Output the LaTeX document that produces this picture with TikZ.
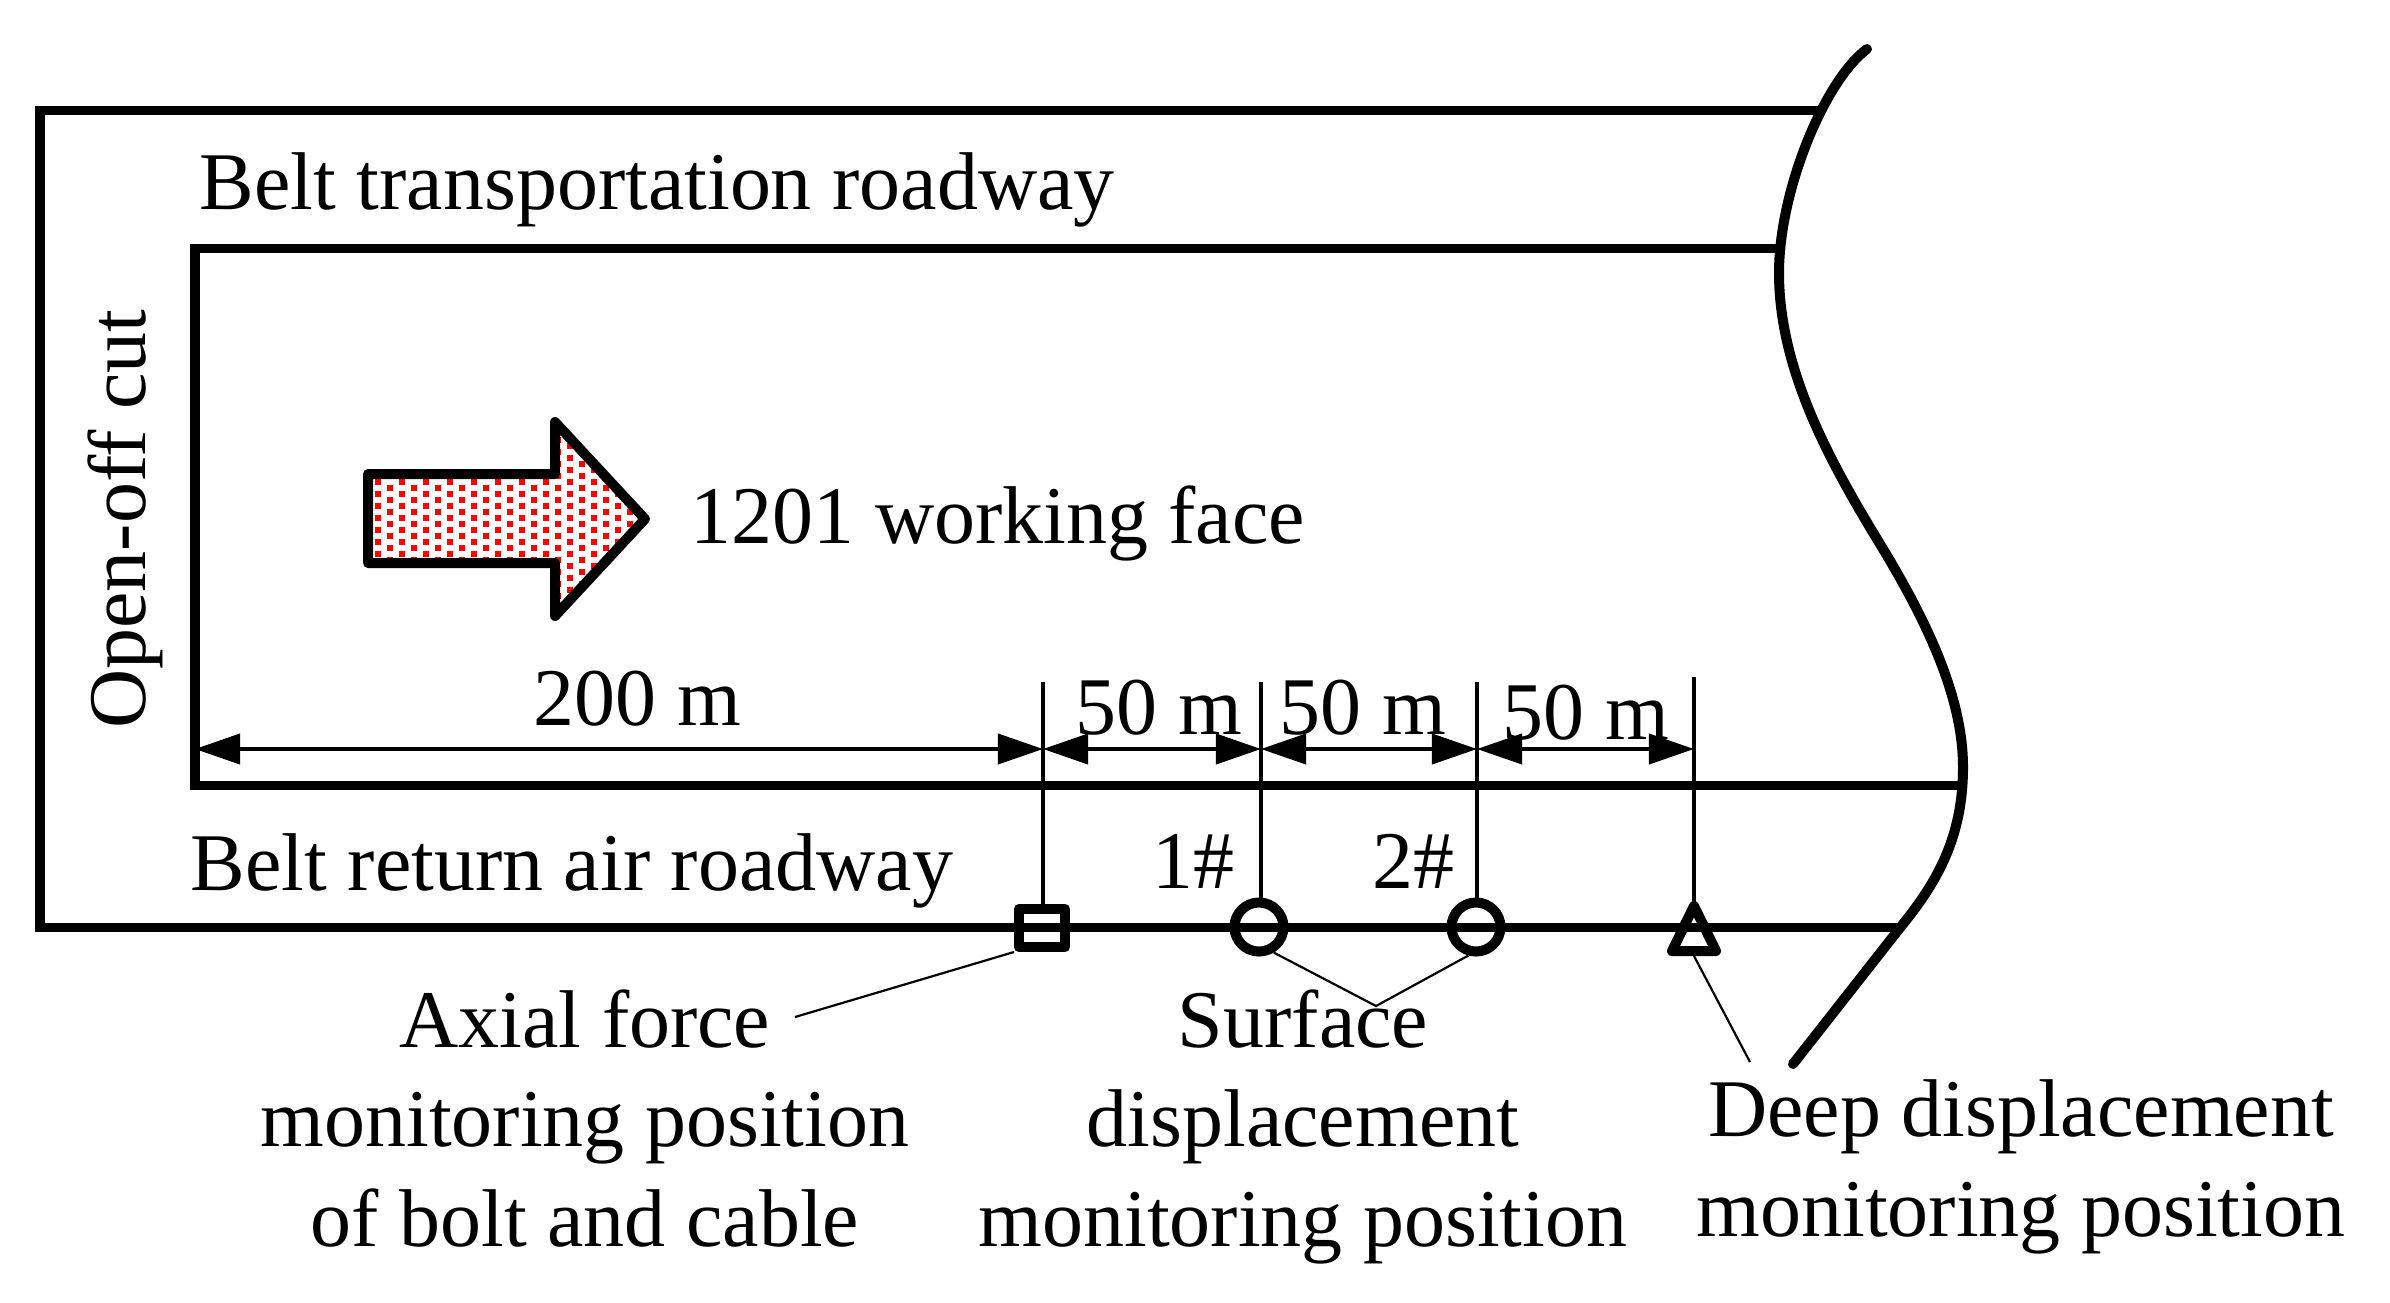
\documentclass[tikz,border=0pt]{standalone}
\usepackage{fontspec}
\setmainfont{Liberation Serif}
\usetikzlibrary{arrows.meta,positioning,shapes.geometric,calc}

\begin{document}
\begin{tikzpicture}[
  x=0.01cm, y=-0.01cm,
  every node/.style={font=\fontsize{23.3}{28.2}\selectfont, inner sep=0pt},
  wall/.style={line width=0.09cm, line join=miter},
  tick/.style={line width=0.035cm},
  leader/.style={line width=0.022cm},
  arr/.style={{Triangle[length=4.5mm,width=3mm]}-{Triangle[length=4.5mm,width=3mm]}, line width=0.04cm},
  marker/.style={draw, line width=0.1cm, fill=none, line join=round},
  lbl/.style={anchor=base west},
  multi/.style={align=center, anchor=base}
]
  \useasboundingbox (0,0) rectangle (2390,1302);

  % roadways
  \coordinate (TR) at (1821,110);
  \coordinate (IR) at (1778,248);
  \coordinate (LR) at (1961,785);
  \coordinate (BR) at (1899,927);
  \draw[wall] (TR) -- (40,110) -- (40,927) -- (BR);
  \draw[wall] (IR) -- (195,248) -- (195,785) -- (LR);
  \draw[line width=0.1cm, line cap=round] (1867,49)
    .. controls (1825,80) and (1779,190) .. (1779,273)
    .. controls (1779,370) and (1830,462) .. (1880,544)
    .. controls (1930,626) and (1963,700) .. (1963,767)
    .. controls (1963,840) and (1935,885) .. (1899,929)
    -- (1793,1064);

  % advance arrow
  \coordinate (A1) at (368,474);
  \coordinate (A2) at (555,474);
  \coordinate (A3) at (555,422);
  \coordinate (A4) at (645,519);
  \coordinate (A5) at (555,616);
  \coordinate (A6) at (555,563);
  \coordinate (A7) at (368,563);
  \begin{scope}
    \clip (A1) -- (A2) -- (A3) -- (A4) -- (A5) -- (A6) -- (A7) -- cycle;
    \foreach \i in {0,...,23} {
      \foreach \j in {-5,...,11} {
        \fill[red] ({375+12*\i},{479+12*\j+6*mod(\i,2)}) rectangle +(6,6);
      }
    }
  \end{scope}
  \draw[line width=0.1cm, line join=round] (A1) -- (A2) -- (A3) -- (A4) -- (A5) -- (A6) -- (A7) -- cycle;

  % monitoring positions
  \node (AF) [marker, shape=rectangle, minimum width=0.46cm, minimum height=0.38cm] at (1042,928) {};
  \node (S1) [marker, shape=circle, minimum size=0.49cm] at (1259,927) {};
  \node (S2) [marker, shape=circle, minimum size=0.49cm] at (1476,927) {};
  \node (DP) [marker, shape=isosceles triangle, isosceles triangle apex angle=52,
    isosceles triangle stretches, shape border rotate=90,
    minimum width=0.44cm, minimum height=0.45cm, anchor=lower side] at (1694,956) {};

  % ticks
  \coordinate (T0) at (1043,682);
  \coordinate (T1) at (1261,682);
  \coordinate (T2) at (1477,682);
  \coordinate (T3) at (1694,677);
  \draw[tick] (T0) -- (AF.north -| T0);
  \draw[tick] (T1) -- (S1.north -| T1);
  \draw[tick] (T2) -- (S2.north -| T2);
  \draw[tick, shorten >=-0.08cm] (T3) -- (DP.apex);

  % dimensions
  \coordinate (D) at (195,749);
  \coordinate (D0) at (T0 |- D);
  \coordinate (D1) at (T1 |- D);
  \coordinate (D2) at (T2 |- D);
  \coordinate (D3) at (T3 |- D);
  \draw[arr] (D) -- (D0);
  \draw[arr] (D0) -- (D1);
  \draw[arr] (D1) -- (D2);
  \draw[arr] (D2) -- (D3);

  % labels
  \node (BT) [lbl] at (199,209) {Belt transportation roadway};
  \node (BA) [lbl] at (190,890) {Belt return air roadway};
  \node (OC) [rotate=90, anchor=base] at (145,519) {Open-off cut};
  \node (WF) [lbl] at (690,543) {1201 working face};
  \node (L200) [lbl] at (533,725) {200 m};
  \node (L1) [lbl] at (1075,734) {50 m};
  \node (L2) [lbl] at (1279,734) {50 m};
  \node (L3) [lbl] at (1502,739) {50 m};
  \node (N1) [lbl] at (1152,888) {1\#};
  \node (N2) [lbl] at (1372,888) {2\#};
  \node (AL) [multi] at (585,1246) {Axial force\\monitoring position\\of bolt and cable};
  \node (SL) [multi] at (1303,1246) {Surface\\displacement\\monitoring position};
  \node (DL) [multi] at (2021,1236) {Deep displacement\\monitoring position};

  % leaders
  \coordinate (AE) at (795,1017);
  \coordinate (SE) at (1376,1006);
  \coordinate (DE) at (1750,1062);
  \draw[leader] (AF.south west) -- (AE);
  \draw[leader] (S1.-60) -- (SE) -- (S2.-105);
  \draw[leader] (DP.lower side) -- (DE);
\end{tikzpicture}
\end{document}
